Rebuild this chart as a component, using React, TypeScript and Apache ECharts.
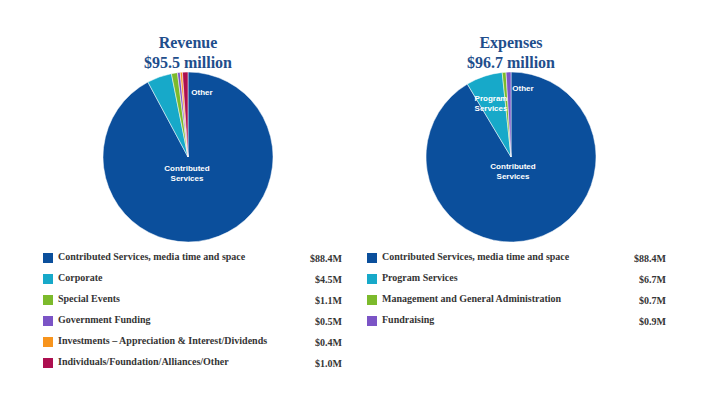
import React, { useEffect, useRef } from "react";
import * as echarts from "echarts";

const revenueNames = [
  "Contributed Services, media time and space",
  "Corporate",
  "Special Events",
  "Government Funding",
  "Investments – Appreciation & Interest/Dividends",
  "Individuals/Foundation/Alliances/Other",
];
const revenueValues = [88.4, 4.5, 1.1, 0.5, 0.4, 1.0];
const revenueColors = ["#0b4f9c", "#17a9c9", "#7cba2c", "#7b54c6", "#f7941d", "#ad0f50"];

const expenseNames = [
  "Contributed Services, media time and space",
  "Program Services",
  "Management and General Administration",
  "Fundraising",
];
const expenseValues = [88.4, 6.7, 0.7, 0.9];
const expenseColors = ["#0b4f9c", "#17a9c9", "#7cba2c", "#7b54c6"];

const titles = ["Revenue\n$95.5 million", "Expenses\n$96.7 million"];

const fmt = (v: number) => "$" + v.toFixed(1) + "M";

export default function App() {
  const ref = useRef<HTMLDivElement>(null);
  useEffect(() => {
    if (!ref.current) return;
    const chart = echarts.init(ref.current, null, { renderer: "svg" });

    const legend = (names: string[], values: number[], colors: string[], x0: number, xr: number) => {
      const els: any[] = [];
      names.forEach((n, i) => {
        const y = 258 + i * 21;
        els.push({
          type: "rect",
          shape: { x: x0, y: y - 5, width: 10, height: 10 },
          style: { fill: colors[i] },
        });
        els.push({
          type: "text",
          x: x0 + 15,
          y: y - 2,
          style: {
            text: n,
            fill: "#353535",
            font: "bold 10px 'Liberation Serif', serif",
            verticalAlign: "middle",
            align: "left",
          },
        });
        els.push({
          type: "text",
          x: xr,
          y: y,
          style: {
            text: fmt(values[i]),
            fill: "#353535",
            font: "bold 10px 'Liberation Serif', serif",
            verticalAlign: "middle",
            align: "right",
          },
        });
      });
      return els;
    };

    const pieLabel = (text: string, x: number, y: number) => ({
      type: "text",
      x,
      y,
      z: 100,
      style: {
        text,
        fill: "#ffffff",
        font: "bold 8px 'Liberation Sans', Arial, sans-serif",
        align: "center",
        verticalAlign: "middle",
        lineHeight: 10,
      },
    });

    const titleText = (text: string, x: number) => ({
      type: "text",
      x,
      y: 32,
      style: {
        text,
        fill: "#1f4e8c",
        font: "bold 16px 'Liberation Serif', 'Times New Roman', serif",
        align: "center",
        verticalAlign: "top",
        lineHeight: 20,
      },
    });

    chart.setOption({
      animation: false,
      backgroundColor: "#ffffff",
      series: [
        {
          type: "pie",
          center: [188, 157],
          radius: 85,
          startAngle: 90,
          clockwise: true,
          label: { show: false },
          labelLine: { show: false },
          itemStyle: { borderColor: "#ffffff", borderWidth: 0.5 },
          data: revenueNames.map((n, i) => ({ name: n, value: revenueValues[i], itemStyle: { color: revenueColors[i] } })),
        },
        {
          type: "pie",
          center: [511, 157],
          radius: 85,
          startAngle: 90,
          clockwise: true,
          label: { show: false },
          labelLine: { show: false },
          itemStyle: { borderColor: "#ffffff", borderWidth: 0.5 },
          data: expenseNames.map((n, i) => ({ name: "E:" + n, value: expenseValues[i], itemStyle: { color: expenseColors[i] } })),
        },
      ],
      graphic: [
        titleText(titles[0], 188),
        titleText(titles[1], 511),
        pieLabel("Contributed\nServices", 187, 173),
        pieLabel("Other", 202, 92),
        pieLabel("Contributed\nServices", 513, 171),
        pieLabel("Program\nServices", 491, 103),
        pieLabel("Other", 523, 88),
        ...legend(revenueNames, revenueValues, revenueColors, 43, 342),
        ...legend(expenseNames, expenseValues, expenseColors, 367, 666),
      ],
    });
    return () => chart.dispose();
  }, []);
  return <div ref={ref} style={{ position: "absolute", left: 0, top: 0, width: 713, height: 395 }} />;
}
